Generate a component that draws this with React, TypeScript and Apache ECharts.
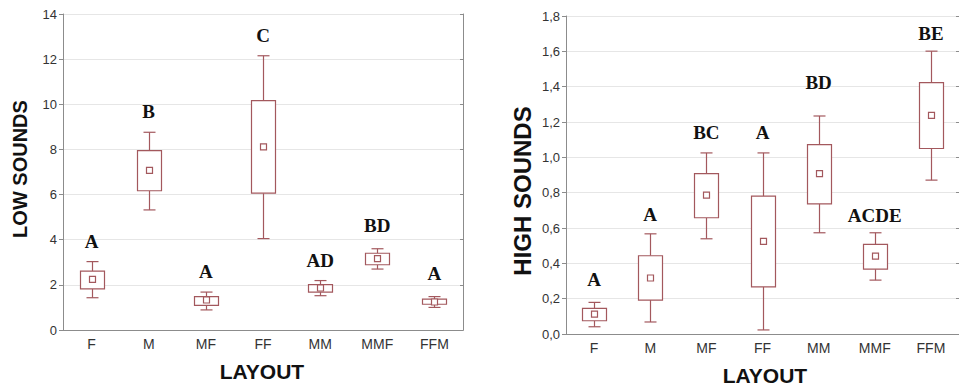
import React, { useEffect, useRef } from "react";
import * as echarts from "echarts";

const categories = ["F", "M", "MF", "FF", "MM", "MMF", "FFM"];

// LOW SOUNDS
const lowWhiskerLo = [1.43, 5.32, 0.89, 4.05, 1.52, 2.7, 1.0];
const lowBoxLo = [1.82, 6.17, 1.09, 6.06, 1.68, 2.89, 1.14];
const lowMean = [2.24, 7.07, 1.33, 8.11, 1.86, 3.16, 1.24];
const lowBoxHi = [2.61, 7.95, 1.48, 10.16, 2.01, 3.4, 1.37];
const lowWhiskerHi = [3.03, 8.76, 1.68, 12.15, 2.19, 3.6, 1.48];
const lowLetters = ["A", "B", "A", "C", "AD", "BD", "A"];
const lowLetterAt = [3.91, 9.67, 2.58, 13.04, 3.06, 4.65, 2.51];

// HIGH SOUNDS
const highWhiskerLo = [0.041, 0.068, 0.539, 0.023, 0.573, 0.305, 0.871];
const highBoxLo = [0.075, 0.192, 0.658, 0.267, 0.737, 0.367, 1.05];
const highMean = [0.113, 0.317, 0.786, 0.524, 0.908, 0.441, 1.238];
const highBoxHi = [0.145, 0.443, 0.908, 0.78, 1.072, 0.507, 1.423];
const highWhiskerHi = [0.179, 0.567, 1.025, 1.025, 1.234, 0.573, 1.601];
const highLetters = ["A", "A", "BC", "A", "BD", "ACDE", "BE"];
const highLetterAt = [0.309, 0.678, 1.14, 1.14, 1.426, 0.673, 1.7];

const BOX_COLOR = "#a3585d";
const AXIS_COLOR = "#8c8c8c";
const SANS = "'Liberation Sans', Arial, sans-serif";
const SERIF = "'Liberation Serif', 'Times New Roman', serif";

function boxData(lo: number[], q1: number[], mean: number[], q3: number[], hi: number[]) {
  return categories.map((_, i) => [i, lo[i], q1[i], mean[i], q3[i], hi[i]]);
}

function renderBox(params: any, api: any) {
  const i = api.value(0);
  const lo = api.coord([i, api.value(1)]);
  const q1 = api.coord([i, api.value(2)]);
  const m = api.coord([i, api.value(3)]);
  const q3 = api.coord([i, api.value(4)]);
  const hi = api.coord([i, api.value(5)]);
  const x = Math.round(lo[0]) + 0.5;
  const hw = 12;
  const cw = 6;
  const style = { stroke: BOX_COLOR, fill: "none", lineWidth: 1.2 };
  return {
    type: "group",
    children: [
      { type: "line", shape: { x1: x, y1: hi[1], x2: x, y2: q3[1] }, style },
      { type: "line", shape: { x1: x, y1: q1[1], x2: x, y2: lo[1] }, style },
      { type: "line", shape: { x1: x - cw, y1: hi[1], x2: x + cw, y2: hi[1] }, style },
      { type: "line", shape: { x1: x - cw, y1: lo[1], x2: x + cw, y2: lo[1] }, style },
      { type: "rect", shape: { x: x - hw, y: q3[1], width: 2 * hw, height: q1[1] - q3[1] }, style: { ...style, fill: "#fff" } },
      { type: "rect", shape: { x: x - 3, y: m[1] - 3, width: 6, height: 6 }, style: { ...style, fill: "#fff" } },
    ],
  };
}

function letterRenderer(letters: string[]) {
  return (params: any, api: any) => {
    const p = api.coord([api.value(0), api.value(1)]);
    return {
      type: "text",
      x: p[0],
      y: p[1],
      style: {
        text: letters[params.dataIndex],
        fontFamily: SERIF,
        fontSize: 19,
        fontWeight: "bold",
        fill: "#111",
        align: "center",
        verticalAlign: "middle",
      },
    };
  };
}

function xAxes(gridIndex: number) {
  return [
    {
      gridIndex,
      type: "category",
      data: categories,
      boundaryGap: true,
      axisLine: { lineStyle: { color: AXIS_COLOR } },
      axisTick: { alignWithLabel: true, length: 4, lineStyle: { color: AXIS_COLOR } },
      axisLabel: { color: "#333", fontSize: 14, margin: 7, fontFamily: SANS },
      splitLine: { show: false },
    },
    {
      gridIndex,
      type: "category",
      position: "top",
      data: categories,
      boundaryGap: true,
      axisLine: { lineStyle: { color: AXIS_COLOR } },
      axisTick: { alignWithLabel: true, inside: true, length: 3, lineStyle: { color: AXIS_COLOR } },
      axisLabel: { show: false },
      splitLine: { show: false },
    },
  ];
}

function yAxes(gridIndex: number, max: number, interval: number, fmt: (v: number) => string, fontSize: number) {
  return [
    {
      gridIndex,
      type: "value",
      min: 0,
      max,
      interval,
      axisLine: { show: true, lineStyle: { color: AXIS_COLOR } },
      axisTick: { show: true, length: 4, lineStyle: { color: AXIS_COLOR } },
      axisLabel: { color: "#333", fontSize, margin: 6, fontFamily: SANS, formatter: fmt },
      splitLine: { show: true, lineStyle: { color: "#e6e6e6", width: 1 } },
    },
    {
      gridIndex,
      type: "value",
      position: "right",
      min: 0,
      max,
      interval,
      axisLine: { show: true, lineStyle: { color: AXIS_COLOR } },
      axisTick: { show: true, inside: true, length: 3, lineStyle: { color: AXIS_COLOR } },
      axisLabel: { show: false },
      splitLine: { show: false },
    },
  ];
}

export default function App() {
  const ref = useRef<HTMLDivElement>(null);
  useEffect(() => {
    if (!ref.current) return;
    const chart = echarts.init(ref.current, null, { renderer: "svg" });
    const option: any = {
      animation: false,
      backgroundColor: "#fff",
      grid: [
        { left: 63, top: 14, width: 400, height: 316 },
        { left: 566, top: 16, width: 398, height: 318 },
      ],
      xAxis: [...xAxes(0), ...xAxes(1)],
      yAxis: [
        ...yAxes(0, 14, 2, (v: number) => String(v), 13),
        ...yAxes(1, 1.8, 0.2, (v: number) => v.toFixed(1).replace(".", ","), 13),
      ],
      series: [
        {
          type: "custom",
          xAxisIndex: 0,
          yAxisIndex: 0,
          renderItem: renderBox,
          encode: { x: 0, y: [1, 2, 3, 4, 5] },
          data: boxData(lowWhiskerLo, lowBoxLo, lowMean, lowBoxHi, lowWhiskerHi),
        },
        {
          type: "custom",
          xAxisIndex: 0,
          yAxisIndex: 0,
          renderItem: letterRenderer(lowLetters),
          encode: { x: 0, y: 1 },
          data: categories.map((_, i) => [i, lowLetterAt[i]]),
        },
        {
          type: "custom",
          xAxisIndex: 2,
          yAxisIndex: 2,
          renderItem: renderBox,
          encode: { x: 0, y: [1, 2, 3, 4, 5] },
          data: boxData(highWhiskerLo, highBoxLo, highMean, highBoxHi, highWhiskerHi),
        },
        {
          type: "custom",
          xAxisIndex: 2,
          yAxisIndex: 2,
          renderItem: letterRenderer(highLetters),
          encode: { x: 0, y: 1 },
          data: categories.map((_, i) => [i, highLetterAt[i]]),
        },
      ],
      graphic: [
        {
          type: "text",
          x: 20,
          y: 169,
          rotation: Math.PI / 2,
          style: { text: "LOW SOUNDS", fontFamily: SANS, fontWeight: "bold", fontSize: 20, fill: "#111", align: "center", verticalAlign: "middle" },
        },
        {
          type: "text",
          x: 522,
          y: 191,
          rotation: Math.PI / 2,
          style: { text: "HIGH SOUNDS", fontFamily: SANS, fontWeight: "bold", fontSize: 24, fill: "#111", align: "center", verticalAlign: "middle" },
        },
        {
          type: "text",
          x: 262,
          y: 371,
          style: { text: "LAYOUT", fontFamily: SANS, fontWeight: "bold", fontSize: 21, fill: "#111", align: "center", verticalAlign: "middle" },
        },
        {
          type: "text",
          x: 765,
          y: 375,
          style: { text: "LAYOUT", fontFamily: SANS, fontWeight: "bold", fontSize: 21, fill: "#111", align: "center", verticalAlign: "middle" },
        },
      ],
    };
    chart.setOption(option);
    return () => chart.dispose();
  }, []);
  return (
    <div
      ref={ref}
      style={{ position: "absolute", left: 0, top: 0, width: 959, height: 387 }}
    />
  );
}
